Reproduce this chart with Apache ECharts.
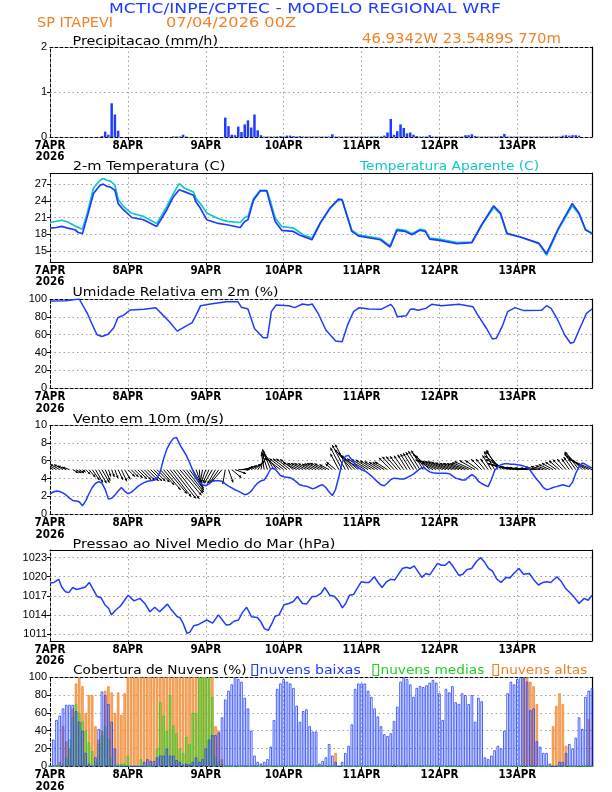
<!DOCTYPE html>
<html><head><meta charset="utf-8">
<script src="https://cdn.jsdelivr.net/npm/echarts@6/dist/echarts.min.js"></script>
<style>html,body{margin:0;padding:0;background:#fff}#c{width:612px;height:792px}</style>
</head><body><div id="c"></div>
<script>
// ---------------- DATA (hour 0 = 7APR2026 00Z) ----------------
const dayTickLabels = ['7APR\n2026','8APR','9APR','10APR','11APR','12APR','13APR'];
const dayHours = [0,24,48,72,96,120,144];

const precip = [
 0,0,0,0,0,0,0,0,0,0,0,0,0,0,0,0,0.02,0.12,0.05,0.75,0.5,0.14,0,0,
 0,0,0,0,0,0,0,0,0,0,0,0,0,0,0.01,0.01,0.01,0.05,0.01,0,0,0,0,0,
 0,0,0,0,0,0,0.43,0.24,0.05,0.04,0.23,0.11,0.28,0.37,0.21,0.5,0.15,0.04,0.01,0.01,0.01,0.01,0.01,0.02,
 0.01,0.03,0.03,0.02,0.01,0.02,0.01,0.01,0.01,0.01,0.01,0.01,0.01,0.01,0.01,0.06,0.01,0.01,0.01,0.01,0.01,0.01,0.01,0.01,
 0.01,0.01,0.01,0.01,0.01,0.01,0.01,0.03,0.1,0.4,0.05,0.13,0.28,0.2,0.08,0.1,0.05,0.02,0.01,0.01,
 0.01,0.04,0.01,0.01,0.01,0.01,0.01,0.01,0.01,0.01,0.01,0.01,0.04,0.04,0.06,0.02,0.01,0.01,0.01,0.01,0.01,0.01,0.01,0.02,
 0.07,0.01,0.01,0.01,0.01,0.01,0.01,0.01,0.01,0.01,0.01,0.01,0.01,0.01,0.01,0.01,0.01,0.01,0.03,0.04,0.03,0.04,0.04,0.03
];

const temp2m = [[0,19.1],[2,19.2],[3.6,19.4],[5.5,19.1],[7.7,18.8],[8.7,18.3],[10,18.1],[11.5,21.2],[13.4,25.3],[15.4,26.8],[16.4,27.0],[17.5,26.6],[18.5,26.5],[20,25.9],[21,23.5],[22.6,22.4],[25.2,21.0],[28.8,20.6],[32.9,19.4],[33.5,19.2],[36,22.4],[38,24.7],[39.8,26.0],[41.6,25.6],[44.2,25.0],[45,23.8],[46.3,22.7],[48.3,20.6],[51.4,20.0],[54.5,19.7],[58.6,19.2],[60,20.3],[61,20.6],[62.7,24.1],[64.8,25.8],[66.8,25.8],[67.8,23.5],[69.4,20.3],[71.4,18.7],[75,18.5],[77,17.8],[78,17.6],[80.7,17.0],[83.3,20.0],[86.3,22.7],[88.9,24.3],[90,24.2],[93,18.5],[95,17.7],[101.8,17.0],[104.8,15.7],[106.9,18.7],[109.5,18.5],[111.5,17.9],[114,18.7],[115.6,18.5],[117,17.1],[120,16.9],[125.4,16.3],[126,16.1],[130,16.5],[133,19.7],[136.7,23.1],[138.8,21.8],[140.8,18.1],[144.9,17.5],[150.6,16.4],[153,14.5],[156.7,19.1],[160.9,23.5],[163,21.8],[165,18.8],[167,18.1]];

const tempApparent = [[0,20.1],[3.6,20.5],[5.5,20.2],[8,19.4],[10,18.9],[11.5,21.8],[13.4,26.3],[15.4,27.7],[16.4,28.0],[17.5,27.7],[18.5,27.6],[20,26.8],[21,24.3],[22.6,23.0],[25,21.8],[28.8,21.2],[32.9,19.9],[36,23.0],[38,25.3],[39.8,27.1],[41.6,26.2],[44.2,25.6],[45,24.4],[46.3,23.5],[48.3,21.8],[51.4,20.9],[54.5,20.3],[58.6,20.1],[60,21.0],[61,21.2],[62.7,24.4],[64.8,25.9],[66.8,25.9],[67.8,24.1],[69.4,20.9],[71.4,19.4],[75,19.1],[78,17.9],[80.7,17.3],[83.3,20.1],[86.3,22.7],[88.9,24.2],[90,24.1],[93,18.7],[95,17.9],[101.8,17.2],[104.8,15.9],[106.9,18.9],[109.5,18.7],[111.5,18.1],[114,18.9],[115.6,18.7],[117,17.3],[120,17.1],[125.4,16.5],[126,16.3],[130,16.6],[133,19.6],[136.7,22.8],[138.8,21.6],[140.8,18.2],[144.9,17.5],[150.6,16.3],[153,14.2],[156.7,18.9],[160.9,23.1],[163,21.6],[165,18.8],[167,18.2]];

const relHumidity = [[0,97.8],[4.8,98],[9,100],[9.6,99],[11.5,84],[13.3,69],[14.5,60],[16,58],[17.9,60.5],[19.7,68],[20.9,79],[22.7,82],[24.7,87.7],[29,88.4],[32.6,90.3],[34,85],[36.8,74.6],[39.2,64],[41.6,69],[43.8,73.5],[45,82],[46.4,92.5],[49.5,94.4],[54.3,97],[57.9,97],[59,90.7],[61,88.8],[63,67],[65.7,56.7],[67,56.7],[68.2,85.8],[69.7,93.3],[73.6,92.5],[75.4,90.3],[77.8,94.4],[79.6,93.3],[80.8,94.4],[82.6,84],[85,65.3],[88,53],[90,52.2],[91.7,71],[93.5,85.8],[95.3,90.3],[98.3,88.8],[102,88.4],[105,94],[106,89.5],[107,80.2],[109.8,81.3],[111,88.4],[112,88.8],[113.4,87.3],[115.8,89.5],[117.6,94],[120.6,92.5],[126,94],[130.3,91.4],[131.7,82.8],[134.5,67],[136.3,55.2],[137.5,56],[139.3,69],[141,85.8],[143.3,90.3],[146,87],[151.4,87.3],[153,92.5],[154.4,89.5],[156.2,78.4],[158.6,59.7],[160.4,50.4],[161.4,51.5],[162.8,63.4],[165.3,84],[167,88.8]];

const windSpeed = [
 2.3,2.5,2.6,2.55,2.4,2.15,1.8,1.55,1.5,1.4,0.95,1.5,2.3,3.0,3.45,3.65,3.5,2.8,1.7,1.8,2.15,2.6,3.0,2.6,
 2.3,2.45,2.75,3.1,3.35,3.55,3.7,3.75,3.8,4.1,4.8,6.2,7.3,8.0,8.5,8.6,7.8,7.2,6.6,5.8,4.9,4.1,3.55,3.3,
 3.2,3.4,3.7,3.75,3.75,3.7,3.4,3.15,2.95,2.75,2.6,2.4,2.2,2.3,2.6,3.1,3.5,3.75,3.85,4.4,5.1,5.15,4.8,4.35,
 4.2,4.15,4.1,3.9,3.6,3.3,3.2,3.15,3.0,2.85,3.0,3.2,3.3,3.0,2.5,2.1,2.8,4.2,5.8,6.5,6.6,6.1,5.6,5.2,
 5.0,4.85,4.6,4.3,3.95,3.6,3.3,3.2,3.5,3.9,4.05,4.0,3.95,3.95,4.1,4.3,4.5,4.8,5.1,5.25,5.0,4.75,4.65,4.6,
 4.6,4.6,4.6,4.55,4.3,4.05,3.95,3.85,3.85,4.2,4.45,4.2,3.7,3.45,3.25,3.1,3.9,4.9,5.3,5.55,5.65,5.65,5.6,5.6,
 5.55,5.5,5.4,5.25,4.9,4.4,3.9,3.5,3.0,2.75,2.85,3.0,3.1,3.2,3.3,3.2,3.1,3.6,4.6,5.3,5.75,5.6,5.35,5.2
];
// wind direction (degrees, meteorological "from")
const windDir = [
 120,120,120,120,120,115,110,300,300,305,310,315,320,325,330,330,330,335,340,340,340,335,335,330,
 315,315,315,315,315,315,315,315,315,315,318,320,320,322,322,322,320,320,322,325,330,340,355,10,
 20,25,30,30,35,40,10,340,310,290,270,260,250,245,240,230,215,190,170,162,158,150,140,128,
 128,128,128,128,118,118,118,118,118,118,118,118,118,118,118,130,130,152,152,152,152,140,135,130,
 122,122,122,122,122,122,122,122,122,135,138,140,142,145,148,148,148,148,148,148,140,135,120,118,
 116,115,114,113,112,112,112,112,112,113,115,120,125,135,140,145,148,150,150,140,125,115,105,102,
 100,98,96,95,95,95,95,100,105,110,115,120,125,130,135,140,145,145,145,142,135,125,118,115
];

const pressure = [[0,1019.0],[1.2,1019.1],[2.7,1019.6],[3.6,1018.4],[4.8,1017.65],[5.8,1017.5],[7,1018.3],[8.2,1018.0],[9.6,1018.2],[10.9,1018.4],[12.1,1019.1],[13.3,1018.0],[14.5,1016.9],[15.7,1016.7],[16.9,1015.6],[18.1,1015.0],[18.9,1014.0],[20.1,1014.7],[21.7,1015.4],[22.7,1016.1],[24.1,1017.1],[25.9,1016.2],[27.7,1016.6],[29.2,1015.8],[30.8,1014.5],[32.3,1015.2],[33.8,1014.5],[36.2,1015.7],[37.4,1014.8],[39.2,1013.7],[40,1013.6],[41,1012.7],[42.2,1011.1],[43.1,1011.3],[44.3,1012.3],[45.8,1012.5],[48.3,1013.2],[50.1,1012.7],[51.9,1014.0],[53.1,1013.2],[54.3,1012.4],[55.5,1012.5],[56.7,1013.0],[58.1,1013.2],[59.3,1014.4],[60.6,1015.2],[62.1,1013.7],[63.9,1013.6],[65.1,1012.8],[66.1,1011.8],[67.3,1011.6],[68.5,1012.8],[69.4,1013.8],[70.6,1014.0],[72.1,1015.6],[73.6,1015.8],[75,1016.1],[76.2,1016.9],[77.8,1015.8],[79,1015.7],[80.8,1016.9],[82,1016.9],[83.5,1017.4],[84.7,1018.3],[86.2,1017.1],[87.7,1016.9],[89,1016.1],[90.1,1015.1],[91.1,1015.8],[92.3,1017.1],[93.5,1017.2],[94.7,1018.2],[95.9,1019.2],[97.1,1019.1],[98.3,1019.1],[99.9,1020.0],[101.1,1019.1],[102.3,1018.3],[103.7,1019.2],[104.9,1019.6],[106.2,1019.5],[107.4,1020.4],[108.6,1021.3],[109.8,1021.5],[111,1021.3],[112.2,1021.7],[113.4,1020.8],[114.6,1019.9],[115.8,1020.5],[117,1020.3],[118.2,1021.2],[119.4,1022.1],[120.6,1021.8],[121.8,1021.8],[123,1022.4],[124.2,1021.6],[126,1020.2],[127.2,1020.4],[128.4,1021.1],[129.9,1021.3],[131.4,1022.4],[132.7,1023.0],[133.9,1022.3],[135.1,1021.3],[136.3,1020.9],[137.7,1019.6],[139,1019.1],[140.5,1019.9],[141.7,1019.8],[142.9,1020.5],[144.5,1021.3],[145.9,1020.4],[147.7,1020.5],[149.1,1019.5],[150.5,1018.7],[151.9,1019.1],[153.1,1019.2],[154.3,1019.1],[156.2,1020.0],[157.6,1019.2],[158.8,1018.2],[160.4,1017.4],[161.8,1016.6],[163,1015.8],[164.6,1016.6],[165.8,1016.3],[167,1017.1]];

const cloudLow = [
 0,30,52,57,65,69,69,69,62,50,40,15,3,0,10,42,84,80,70,50,20,0,0,0,
 0,0,0,0,0,5,8,6,6,10,12,12,20,12,12,7,5,2,3,2,5,10,5,8,
 20,30,35,35,38,55,75,85,92,100,98,95,77,65,40,12,5,3,5,8,22,52,87,93,
 98,95,93,88,68,50,62,64,45,39,39,3,6,10,25,12,5,0,5,15,23,47,87,93,
 93,93,85,78,65,56,45,36,34,37,51,67,95,100,98,92,78,88,90,89,91,94,97,94,
 82,52,87,83,90,72,70,82,80,70,80,50,77,73,10,8,12,18,23,20,40,82,95,92,
 98,100,100,95,63,65,28,22,15,15,3,0,0,5,5,15,25,20,32,55,42,78,85,88
];
const cloudMid = [
 0,0,0,0,2,10,30,55,70,60,50,40,27,17,5,25,35,45,30,10,0,3,3,3,
 12,0,0,0,8,0,0,0,0,20,72,57,40,80,46,37,20,15,33,25,60,60,100,100,
 100,100,78,10,5,3,0,0,0,0,0,0,0,0,0,0,0,0,0,0,0,0,0,0,
 0,0,0,0,0,0,0,0,0,0,0,0,0,0,0,0,0,0,0,0,0,0,0,0,
 0,0,0,0,0,0,0,0,0,0,2,0,0,0,2,0,0,0,0,0,0,0,0,0,
 0,0,0,0,0,0,0,0,0,0,0,0,0,0,0,0,0,0,0,0,0,0,0,0,
 0,0,0,0,0,0,0,0,0,0,0,0,0,0,0,0,0,0,0,0,0,0,0,0
];
const cloudHigh = [
 0,0,0,5,45,28,20,65,93,100,90,60,80,80,45,30,40,85,90,83,60,83,58,82,
 100,100,100,100,100,100,100,100,100,100,100,100,100,100,100,100,100,100,100,100,100,100,100,100,
 100,100,100,45,40,8,0,0,0,0,0,0,0,0,0,0,0,0,0,0,0,0,0,0,
 0,0,0,0,0,0,0,0,0,0,0,0,0,0,0,0,15,0,0,0,0,0,0,0,
 0,0,0,0,0,0,0,0,0,0,0,0,0,0,0,0,0,0,0,0,0,0,0,0,
 0,0,0,0,0,0,0,0,0,0,0,0,0,0,0,0,0,0,0,0,0,0,0,0,
 0,0,100,100,95,90,70,0,0,0,0,45,68,82,70,23,0,0,0,0,0,0,53,0
];

const ticksPrecip = [0,1,2];
const ticksTemp = [15,18,21,24,27];
const ticksRH = [0,20,40,60,80,100];
const ticksWind = [0,2,4,6,8,10];
const ticksPress = [1011,1014,1017,1020,1023];
const ticksCloud = [0,20,40,60,80,100];

// ---------------- LAYOUT / STYLE ----------------
const BLUE = '#1e3cff', CYAN = '#10c8c8', ORANGE = '#f08228', GREEN = '#1ed21e';
const GL = 50, GW = 542;
const panels = [
 {top:47,   h:90,   min:0,      max:2,      ticks:ticksPrecip, dashTop:true,  dashBottom:true},
 {top:173,  h:89,   min:13,     max:29,     ticks:ticksTemp,   dashTop:false, dashBottom:false},
 {top:299,  h:89.3, min:0,      max:100,    ticks:ticksRH,     dashTop:true,  dashBottom:true},
 {top:425,  h:89.3, min:0,      max:10,     ticks:ticksWind,   dashTop:true,  dashBottom:true},
 {top:550,  h:91,   min:1009.9, max:1024.2, ticks:ticksPress,  dashTop:false, dashBottom:false},
 {top:677.3,h:89,   min:0,      max:100,    ticks:ticksCloud,  dashTop:true,  dashBottom:true}
];
const DASH = [3,2];
const gridLine = {show:true, lineStyle:{color:'#a0a0a0', width:1, type:[1.5,3]}};
const labFontX = '"Liberation Sans Narrow","DejaVu Sans Condensed","Liberation Sans",sans-serif';

const grids = [], xAxes = [], yAxes = [];
panels.forEach((p, i) => {
  grids.push({left:GL, top:p.top, width:GW, height:p.h, containLabel:false, outerBoundsMode:'none'});
  xAxes.push({type:'value', gridIndex:i, min:0, max:167, position:'bottom',
    axisLine:{show:true, onZero:false, lineStyle:{color:'#000', width:1, type:p.dashBottom?DASH:'solid'}},
    axisTick:{show:true, customValues:dayHours.slice(1), length:3, lineStyle:{color:'#000'}},
    axisLabel:{customValues:dayHours, formatter:v => dayTickLabels[dayHours.indexOf(v)] || '',
      margin:3, fontSize:11.5, fontWeight:'bold', fontFamily:labFontX, color:'#000', lineHeight:11.5},
    splitLine:gridLine});
  xAxes.push({type:'value', gridIndex:i, min:0, max:167, position:'top',
    axisLine:{show:true, onZero:false, lineStyle:{color:'#000', width:1, type:p.dashTop?DASH:'solid'}},
    axisTick:{show:false}, axisLabel:{show:false}, splitLine:{show:false}});
  const inner = p.ticks.filter(t => t > p.min && t < p.max);
  yAxes.push({type:'value', gridIndex:i, min:p.min, max:p.max, position:'left',
    axisLine:{show:true, onZero:false, lineStyle:{color:'#000', width:1, type:DASH}},
    axisTick:{show:true, customValues:inner, length:3, lineStyle:{color:'#000'}},
    axisLabel:{customValues:p.ticks, formatter:v => String(v), margin:3, fontSize:11,
      fontFamily:'"Liberation Sans",Arial,sans-serif', color:'#000'},
    splitLine:gridLine});
  yAxes.push({type:'value', gridIndex:i, min:p.min, max:p.max, position:'right',
    axisLine:{show:true, onZero:false, lineStyle:{color:'#000', width:1.2}},
    axisTick:{show:false}, axisLabel:{show:false}, splitLine:{show:false}});
});

// wind arrows
const ARROW_K = 4.3;
function renderArrow(params, api) {
  const h = api.value(0), dir = api.value(1), s = api.value(2);
  const p = api.coord([h, 5]);
  const b = (dir + 180) * Math.PI / 180;
  const len = s * ARROW_K;
  const x2 = p[0] + Math.sin(b) * len, y2 = p[1] - Math.cos(b) * len;
  const ang = Math.atan2(y2 - p[1], x2 - p[0]);
  const hl = 3, ha = 0.45;
  const cs = params.coordSys;
  return {type:'group',
    clipPath:{type:'rect', shape:{x:cs.x, y:cs.y, width:cs.width, height:cs.height}},
    children:[
      {type:'line', shape:{x1:p[0], y1:p[1], x2:x2, y2:y2}, style:{stroke:'#000', lineWidth:1}},
      {type:'polygon', shape:{points:[[x2,y2],[x2-hl*Math.cos(ang-ha), y2-hl*Math.sin(ang-ha)],[x2-hl*Math.cos(ang+ha), y2-hl*Math.sin(ang+ha)]]}, style:{fill:'#000'}}
    ]};
}

const idx = a => a.map((v, i) => [i, v]);
const lineBase = {type:'line', symbol:'none', showSymbol:false, silent:true, animation:false};
const barBase = {type:'bar', barWidth:2.5, barGap:'-100%', silent:true, animation:false};

const series = [
  Object.assign({}, barBase, {xAxisIndex:0, yAxisIndex:0, data:idx(precip), itemStyle:{color:BLUE}}),
  Object.assign({}, lineBase, {xAxisIndex:2, yAxisIndex:2, data:tempApparent, lineStyle:{color:CYAN, width:1.7}}),
  Object.assign({}, lineBase, {xAxisIndex:2, yAxisIndex:2, data:temp2m, lineStyle:{color:BLUE, width:1.7}}),
  Object.assign({}, lineBase, {xAxisIndex:4, yAxisIndex:4, data:relHumidity, lineStyle:{color:BLUE, width:1.5}}),
  {type:'custom', xAxisIndex:6, yAxisIndex:6, silent:true, animation:false, renderItem:renderArrow,
    encode:{x:0, y:2}, data:windDir.map((d, i) => [i, d, windSpeed[i]])},
  Object.assign({}, lineBase, {xAxisIndex:6, yAxisIndex:6, data:idx(windSpeed), lineStyle:{color:BLUE, width:1.5}}),
  Object.assign({}, lineBase, {xAxisIndex:8, yAxisIndex:8, data:pressure, lineStyle:{color:BLUE, width:1.5}}),
  Object.assign({}, barBase, {xAxisIndex:10, yAxisIndex:10, data:idx(cloudHigh), itemStyle:{color:'#f7ad6a', borderColor:ORANGE, borderWidth:0.7}}),
  Object.assign({}, barBase, {xAxisIndex:10, yAxisIndex:10, data:idx(cloudMid), itemStyle:{color:'rgba(255,255,255,0)', borderColor:GREEN, borderWidth:0.8}}),
  Object.assign({}, barBase, {xAxisIndex:10, yAxisIndex:10, data:idx(cloudLow), itemStyle:{color:'rgba(255,255,255,0)', borderColor:BLUE, borderWidth:0.8}})
];

// texts (stretched horizontally like the GrADS font)
const mctx = document.createElement('canvas').getContext('2d');
function txt(str, left, right, cy, color, size) {
  const font = size + 'px "DejaVu Sans"';
  mctx.font = font;
  const w = mctx.measureText(str).width;
  return {type:'text', x:left, y:cy, scaleX:(right - left) / w, silent:true,
    style:{text:str, font:font, fill:color, align:'left', verticalAlign:'middle', textAlign:'left', textVerticalAlign:'middle'}};
}
function box(x, y, color) {
  return {type:'rect', silent:true, shape:{x:x, y:y, width:5.5, height:11}, style:{fill:'none', stroke:color, lineWidth:1.2}};
}
const graphics = [
  txt('MCTIC/INPE/CPTEC - MODELO REGIONAL WRF', 109, 501, 9, BLUE, 14),
  txt('SP ITAPEVI', 37, 113, 23, ORANGE, 14),
  txt('07/04/2026 00Z', 166, 296, 23, ORANGE, 14),
  txt('46.9342W 23.5489S 770m', 362, 561, 39, ORANGE, 14),
  txt('Precipitacao (mm/h)', 72.5, 218, 41.5, '#000', 13),
  txt('2-m Temperatura (C)', 72.7, 225.5, 167, '#000', 13),
  txt('Temperatura Aparente (C)', 360, 539, 167, CYAN, 13),
  txt('Umidade Relativa em 2m (%)', 72.5, 278.5, 293, '#000', 13),
  txt('Vento em 10m (m/s)', 72.7, 224, 419.5, '#000', 13),
  txt('Pressao ao Nivel Medio do Mar (hPa)', 72.5, 335.5, 545, '#000', 13),
  txt('Cobertura de Nuvens (%)', 73, 246.5, 670.5, '#000', 13),
  box(252, 664.5, BLUE), txt('nuvens baixas', 259.5, 360.7, 670.5, BLUE, 13),
  box(373, 664.5, GREEN), txt('nuvens medias', 380.5, 484.3, 670.5, GREEN, 13),
  box(493, 664.5, ORANGE), txt('nuvens altas', 500.5, 587.3, 670.5, ORANGE, 13)
];

const chart = echarts.init(document.getElementById('c'), null, {renderer:'canvas'});
chart.setOption({
  animation:false,
  backgroundColor:'#fff',
  grid:grids, xAxis:xAxes, yAxis:yAxes, series:series,
  graphic:{elements:graphics}
});
</script></body></html>
